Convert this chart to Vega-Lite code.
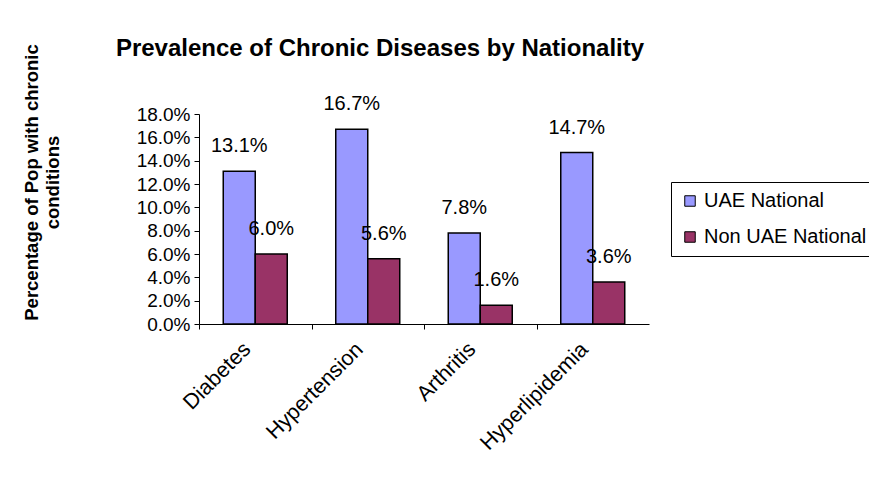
{
  "$schema": "https://vega.github.io/schema/vega-lite/v6.json",
  "width": 450,
  "height": 210,
  "autosize": {"type": "none"},
  "padding": {"left": 199, "top": 114, "right": 220, "bottom": 160},
  "background": "white",
  "config": {
    "font": "Liberation Sans",
    "view": {"stroke": null},
    "axis": {"domainColor": "black", "tickColor": "black", "labelColor": "black", "titleColor": "black", "grid": false, "labelFont": "Liberation Sans", "titleFont": "Liberation Sans"}
  },
  "title": {
    "text": "Prevalence of Chronic Diseases by Nationality",
    "font": "Liberation Sans",
    "fontSize": 24,
    "fontWeight": "bold",
    "color": "black",
    "anchor": "middle",
    "frame": "group",
    "dx": -44,
    "offset": -17
  },
  "data": {
    "values": [
      {"disease": "Diabetes", "group": "UAE National", "value": 0.131},
      {"disease": "Diabetes", "group": "Non UAE National", "value": 0.060},
      {"disease": "Hypertension", "group": "UAE National", "value": 0.167},
      {"disease": "Hypertension", "group": "Non UAE National", "value": 0.056},
      {"disease": "Arthritis", "group": "UAE National", "value": 0.078},
      {"disease": "Arthritis", "group": "Non UAE National", "value": 0.016},
      {"disease": "Hyperlipidemia", "group": "UAE National", "value": 0.147},
      {"disease": "Hyperlipidemia", "group": "Non UAE National", "value": 0.036}
    ]
  },
  "encoding": {
    "x": {
      "field": "disease",
      "type": "nominal",
      "sort": ["Diabetes", "Hypertension", "Arthritis", "Hyperlipidemia"],
      "scale": {"paddingInner": 0, "paddingOuter": 0},
      "axis": {
        "title": null,
        "labelAngle": -45,
        "labelAlign": "right",
        "labelBaseline": "middle",
        "labelFontSize": 21.5,
        "labelPadding": 17,
        "tickSize": 5,
        "tickOffset": -56.25,
        "labelOffset": 48
      }
    },
    "xOffset": {
      "field": "group",
      "type": "nominal",
      "sort": ["UAE National", "Non UAE National"],
      "scale": {"paddingInner": 0, "paddingOuter": 0.758}
    },
    "y": {
      "field": "value",
      "type": "quantitative",
      "scale": {"domain": [0, 0.18], "nice": false},
      "axis": {
        "title": ["Percentage of Pop with chronic", "conditions"],
        "titleFontSize": 18.5,
        "titleFontWeight": "bold",
        "titleLineHeight": 21,
        "titleX": -177,
        "titleY": 68,
        "titleAlign": "center",
        "titleBaseline": "top",
        "values": [0, 0.02, 0.04, 0.06, 0.08, 0.1, 0.12, 0.14, 0.16, 0.18],
        "format": ".1%",
        "labelFontSize": 19,
        "labelPadding": 4,
        "tickSize": 5
      }
    }
  },
  "layer": [
    {
      "mark": {"type": "bar", "stroke": "black", "strokeWidth": 1.5},
      "encoding": {
        "color": {
          "field": "group",
          "type": "nominal",
          "sort": ["UAE National", "Non UAE National"],
          "scale": {"domain": ["UAE National", "Non UAE National"], "range": ["#9999FF", "#993366"]},
          "legend": {
            "title": null,
            "orient": "none",
            "legendX": 472,
            "legendY": 68,
            "symbolType": "square",
            "symbolSize": 110,
            "symbolStrokeColor": "black",
            "symbolStrokeWidth": 1,
            "symbolOpacity": 1,
            "labelFontSize": 20,
            "labelFont": "Liberation Sans",
            "labelColor": "black",
            "labelLimit": 300,
            "rowPadding": 16,
            "padding": 9,
            "strokeColor": "black",
            "fillColor": "white"
          }
        }
      }
    },
    {
      "mark": {"type": "text", "dy": -25, "baseline": "middle", "fontSize": 20, "font": "Liberation Sans", "color": "black"},
      "encoding": {
        "text": {"field": "value", "type": "quantitative", "format": ".1%"}
      }
    }
  ]
}
